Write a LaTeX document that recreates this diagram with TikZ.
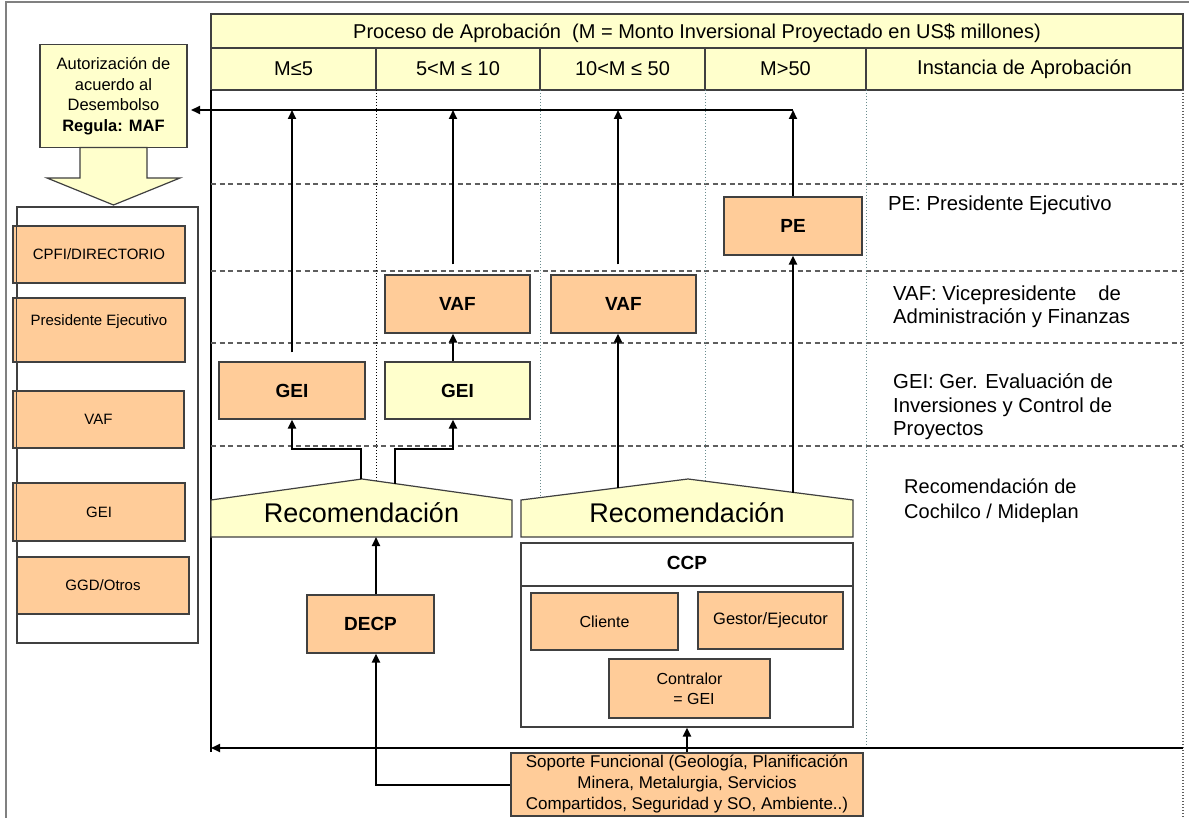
\documentclass[tikz,border=0pt]{standalone}
\usepackage{fontspec}
\setmainfont{Liberation Sans}
\usetikzlibrary{arrows.meta}
\definecolor{boxorange}{HTML}{FFCC99}
\definecolor{paleyellow}{HTML}{FFFFCC}
\definecolor{boxline}{HTML}{404040}
\definecolor{gridgray}{HTML}{5E5E5E}
\definecolor{dotteal}{HTML}{6A8C8E}
\definecolor{framegray}{HTML}{808080}
\newcommand\setfs[2]{\fontsize{#1}{#2}\selectfont}
\begin{document}
\begin{tikzpicture}[x=1pt,y=-1pt,
  box/.style={draw=boxline,line width=1.2pt,inner sep=0pt,align=center},
  obox/.style={box,fill=boxorange},
  ybox/.style={box,fill=paleyellow},
  hdr/.style={box,fill=paleyellow,minimum height=42pt,font=\setfs{20}{24}},
  boldlbl/.style={font=\setfs{19}{22}\bfseries},
  small/.style={font=\setfs{15}{18}},
  arr/.style={line width=2pt,-{Triangle[length=9pt,width=8pt]}},
  grid/.style={gridgray,line width=1.3pt,dash pattern=on 5pt off 3.5pt},
  coldiv/.style={line width=1pt,dotted},
  txt/.style={inner sep=0pt,font=\setfs{20.3}{23.5},align=left},
  recshape/.style={draw=boxline,line width=1.2pt,fill=paleyellow},
]

\useasboundingbox (0,0) rectangle (1189,818);
\fill[white] (0,0) rectangle (1189,818);
% outer frame
\draw[framegray,line width=2pt] (6,818) -- (6,2) -- (1189,2);

% ---------- table header ----------
\node[box,fill=paleyellow,minimum width=972pt,minimum height=34pt] (title) at (697,31) {};
\node[inner sep=0pt,font=\setfs{20}{24}] (titletxt) at (697,33)
  {Proceso de Aprobación\ \ (M = Monto Inversional Proyectado en US\$ millones)};
\node[hdr,minimum width=165pt] (h1) at (293.5,69) {M≤5};
\node[hdr,minimum width=164pt] (h2) at (458,69) {5<M ≤ 10};
\node[hdr,minimum width=165pt] (h3) at (622.5,69) {10<M ≤ 50};
\node[hdr,minimum width=161pt] (h4) at (785.5,69) {M>50};
\node[hdr,minimum width=317pt] (h5) at (1024.5,69) {Instancia de Aprobación};

% table left edge
\draw[black,line width=1.3pt] (211,90) -- (211,752);

% level separators
\foreach \yy in {184,271,343,446} \draw[grid] (211,\yy) -- (1183,\yy);

% column separators
\draw[coldiv,black] (376,90) -- (376,481);
\draw[coldiv,dotteal] (540,90) -- (540,498);
\draw[coldiv,dotteal] (705,90) -- (705,481);
\draw[coldiv,dotteal] (866,90) -- (866,748);
\draw[coldiv,gridgray,line width=1.6pt] (1183,90) -- (1183,818);

% ---------- left panel ----------
\node[ybox,minimum width=147pt,minimum height=103pt,font=\setfs{16.5}{20.5}] (aut) at (113.5,96)
  {Autorización de\\acuerdo al\\Desembolso\\\textbf{Regula: MAF}};
\draw[draw=boxline,line width=1.2pt,fill=paleyellow]
  (80,147.5) -- (147,147.5) -- (147,178) -- (180,178) -- (113.5,205) -- (47,178) -- (80,178) -- cycle;

\node[draw=boxline,line width=1.2pt,fill=white,inner sep=0pt,minimum width=181pt,minimum height=436pt] (panel) at (107.5,425) {};
\node[obox,small,minimum width=172pt,minimum height=57pt] (cpfi) at (99,254.5) {CPFI/DIRECTORIO};
\node[obox,minimum width=172pt,minimum height=64pt] (pres) at (99,330) {};
\node[small,inner sep=0pt] (prestxt) at (99,322) {Presidente Ejecutivo};
\node[obox,small,minimum width=171pt,minimum height=57pt] (lvaf) at (98.5,419.5) {VAF};
\node[obox,small,minimum width=172pt,minimum height=58pt] (lgei) at (99,512) {GEI};
\node[obox,small,minimum width=172pt,minimum height=57pt] (ggd) at (103,585.5) {GGD/Otros};
% panel outline shows through the boxes
\draw[boxline,line width=1.2pt] (panel.south west) rectangle (panel.north east);

% ---------- approval levels ----------
\node[obox,boldlbl,minimum width=146pt,minimum height=57pt] (gei1) at (292,390.5) {GEI};
\node[ybox,boldlbl,minimum width=145pt,minimum height=57pt] (gei2) at (457.5,390.5) {GEI};
\node[obox,boldlbl,minimum width=145pt,minimum height=58pt] (vaf2) at (457.5,304) {VAF};
\node[obox,boldlbl,minimum width=145pt,minimum height=58pt] (vaf3) at (623.5,304) {VAF};
\node[obox,boldlbl,minimum width=138pt,minimum height=58pt] (pe) at (793,226) {PE};

% recommendation roofs
\draw[recshape] (211,537) -- (211,500) -- (362,479) -- (512,500) -- (512,537) -- cycle;
\node[inner sep=0pt,font=\setfs{27}{30}] (rec1) at (361.5,513) {Recomendación};
\draw[recshape] (521,537) -- (521,500) -- (688,479) -- (853,500) -- (853,537) -- cycle;
\node[inner sep=0pt,font=\setfs{27}{30}] (rec2) at (687,513) {Recomendación};
\coordinate (r1apex) at (361,479);
\coordinate (r1b) at (395,484);
\coordinate (r1base) at (376,537);
\coordinate (r2a) at (618,488);
\coordinate (r2b) at (793,492.5);

% CCP committee
\node[draw=boxline,line width=1.2pt,fill=white,inner sep=0pt,minimum width=332pt,minimum height=184pt] (ccp) at (687,635) {};
\draw[boxline,line width=1.2pt] (521,586) -- (853,586);
\node[boldlbl,inner sep=0pt] (ccptitle) at (687,563) {CCP};
\node[obox,font=\setfs{16}{19},minimum width=147pt,minimum height=57pt] (cliente) at (604.5,621.5) {Cliente};
\node[obox,font=\setfs{16.5}{19},minimum width=145pt,minimum height=57pt] (gestor) at (770.5,620.5) {Gestor/Ejecutor};
\node[obox,font=\setfs{16}{20},minimum width=161pt,minimum height=59pt] (contr) at (689.5,688.5) {Contralor\\\ \ = GEI};

\node[obox,boldlbl,minimum width=127pt,minimum height=58pt] (decp) at (370.5,624) {DECP};
\node[obox,font=\setfs{17}{21},minimum width=352pt,minimum height=63pt] (sop) at (687,784.5)
  {Soporte Funcional (Geología, Planificación\\Minera, Metalurgia, Servicios\\Compartidos, Seguridad y SO, Ambiente..)};

% ---------- descriptions ----------
\node[txt,anchor=west] (pedesc) at (888,205) {PE: Presidente Ejecutivo};
\node[txt,anchor=west] (vafdesc) at (893,307) {VAF: Vicepresidente\hspace{22pt}de\\Administración y Finanzas};
\node[txt,anchor=west] (geidesc) at (893,407) {GEI: Ger. Evaluación de\\Inversiones y Control de\\Proyectos};
\node[txt,anchor=west,font=\setfs{20}{25}] (recdesc) at (904,501) {Recomendación de\\Cochilco / Mideplan};

% ---------- connectors ----------
\coordinate (tl) at (191,110);
\draw[arr] ([yshift=9pt]gei1.north) -- (gei1.north |- tl);
\draw[arr] ([xshift=-4.5pt,yshift=10pt]vaf2.north) -- ([xshift=-4.5pt]vaf2.north |- tl);
\draw[arr] ([xshift=-5.5pt,yshift=10pt]vaf3.north) -- ([xshift=-5.5pt]vaf3.north |- tl);
\draw[arr] (pe.north) -- (pe.north |- tl);
\draw[arr] (pe.north |- tl) -- (tl);

\draw[arr] ([xshift=-4.5pt]gei2.north) -- ([xshift=-4.5pt]vaf2.south);
\draw[arr] (r1apex) -- ++(0,-30) -| (gei1.south);
\draw[arr] (r1b) -- ++(0,-35) -| ([xshift=-4.5pt]gei2.south);
\draw[arr] (r2a) -- (r2a |- vaf3.south);
\draw[arr] (r2b) -- (pe.south);

\draw[arr] ([xshift=5.5pt]decp.north) -- ([xshift=5.5pt]decp.north |- r1base);
\draw[arr] (sop.west) -| ([xshift=5.5pt]decp.south);
\coordinate (brr) at (1183,748);
\coordinate (bll) at (211,748);
\draw[arr] (brr) -- (bll);
\draw[arr] (sop.north) -- (sop.north |- ccp.south);
\end{tikzpicture}
\end{document}
